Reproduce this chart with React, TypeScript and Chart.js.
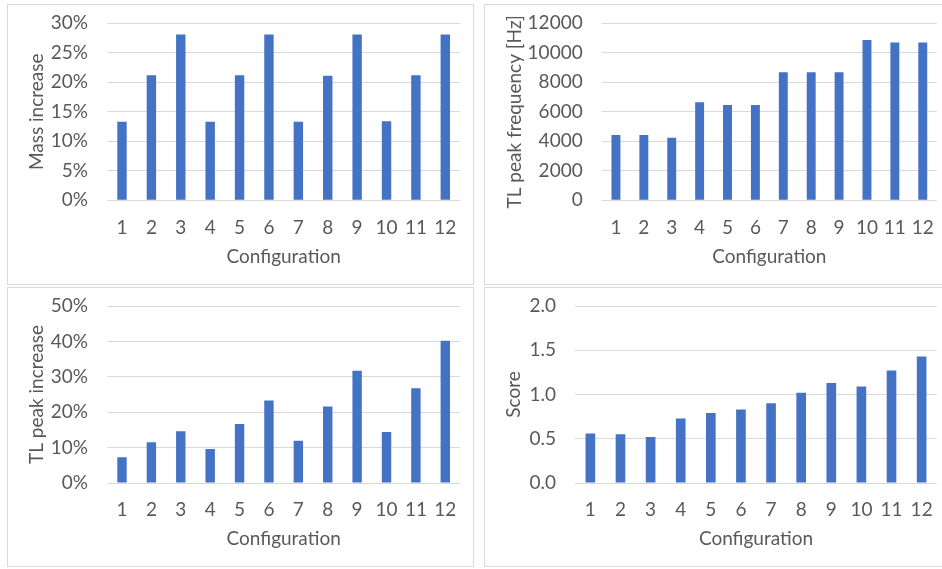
import React, { useEffect, useRef } from "react";
import { Chart, registerables } from "chart.js";

Chart.register(...registerables);

const configurations = ["1", "2", "3", "4", "5", "6", "7", "8", "9", "10", "11", "12"];
const massIncrease = [13.3, 21.2, 28.1, 13.3, 21.2, 28.1, 13.3, 21.1, 28.1, 13.4, 21.2, 28.1];
const tlPeakFrequency = [4430, 4430, 4240, 6640, 6460, 6460, 8680, 8680, 8680, 10870, 10690, 10690];
const tlPeakIncrease = [7.3, 11.5, 14.6, 9.6, 16.7, 23.3, 11.9, 21.6, 31.7, 14.4, 26.8, 40.2];
const score = [0.56, 0.55, 0.52, 0.73, 0.79, 0.83, 0.9, 1.02, 1.13, 1.09, 1.27, 1.43];

const BAR = "#4472C4";
const TEXT = "#595959";
const GRID = "#D9D9D9";
const FONT = "Lato";
const FS = 19;

type PanelProps = {
  left: number; top: number; width: number; height: number;
  plotLeft: number; plotRight: number; plotTop: number; plotBottom: number;
  yLabelRight: number; yTitleX: number; xLabelY: number; xTitleY: number;
  values: number[]; yMax: number; yStep: number; fmt: (v: number) => string;
  yTitle: string;
};

const zeroPad = (s: any) => {
  s.paddingTop = 0; s.paddingBottom = 0; s.paddingLeft = 0; s.paddingRight = 0;
};

function Panel(p: PanelProps) {
  const ref = useRef<HTMLCanvasElement | null>(null);
  useEffect(() => {
    if (!ref.current) return;
    const cw = p.width - 2;
    const ch = p.height - 2;
    const lh = FS * 1.2;
    const chart = new Chart(ref.current, {
      type: "bar",
      data: {
        labels: configurations,
        datasets: [{ data: p.values, backgroundColor: BAR, barPercentage: 0.32, categoryPercentage: 1 }],
      },
      options: {
        animation: false,
        responsive: false,
        maintainAspectRatio: false,
        layout: { padding: { left: 0, top: p.plotTop, right: cw - p.plotRight, bottom: 0 } },
        plugins: { legend: { display: false }, tooltip: { enabled: false } },
        scales: {
          x: {
            grid: { display: false, drawTicks: false },
            border: { display: false },
            ticks: {
              color: TEXT, font: { family: FONT, size: FS }, autoSkip: false, maxRotation: 0,
              padding: p.xLabelY - p.plotBottom - lh / 2,
            },
            title: {
              display: true, text: "Configuration", color: TEXT, font: { family: FONT, size: FS },
              padding: { top: 0, bottom: ch - p.xTitleY - lh / 2 },
            },
            afterFit: (s: any) => { s.height = ch - p.plotBottom; zeroPad(s); },
          },
          y: {
            min: 0, max: p.yMax,
            grid: { color: GRID, drawTicks: false, lineWidth: 1 },
            border: { display: false },
            ticks: {
              stepSize: p.yStep, color: TEXT, font: { family: FONT, size: FS },
              padding: p.plotLeft - p.yLabelRight,
              callback: (v: any) => p.fmt(Number(v)),
            },
            title: {
              display: true, text: p.yTitle, color: TEXT, font: { family: FONT, size: FS },
              padding: { top: p.yTitleX - lh / 2, bottom: 0 },
            },
            afterFit: (s: any) => { s.width = p.plotLeft; zeroPad(s); },
          },
        },
      },
    });
    return () => chart.destroy();
  }, []);
  return (
    <div
      style={{
        position: "absolute", left: p.left, top: p.top, width: p.width, height: p.height,
        border: "1px solid " + GRID, boxSizing: "border-box", background: "#fff",
      }}
    >
      <canvas ref={ref} width={p.width - 2} height={p.height - 2} style={{ display: "block" }} />
    </div>
  );
}

export default function App() {
  const pct = (v: number) => Math.round(v) + "%";
  return (
    <div style={{ position: "absolute", left: 0, top: 0, width: 942, height: 569, overflow: "hidden", background: "#fff" }}>
      <Panel left={7} top={4} width={467} height={281}
        plotLeft={99.3} plotRight={452} plotTop={18.3} plotBottom={195.3}
        yLabelRight={80} yTitleX={29.3} xLabelY={222.7} xTitleY={251.7}
        values={massIncrease} yMax={30} yStep={5} fmt={pct} yTitle="Mass increase" />
      <Panel left={484} top={4} width={460} height={281}
        plotLeft={117} plotRight={451.7} plotTop={18.3} plotBottom={195.3}
        yLabelRight={97.7} yTitleX={30} xLabelY={222.7} xTitleY={251.7}
        values={tlPeakFrequency} yMax={12000} yStep={2000} fmt={(v) => String(v)} yTitle="TL peak frequency [Hz]" />
      <Panel left={7} top={287} width={467} height={280}
        plotLeft={99.3} plotRight={452} plotTop={18} plotBottom={195}
        yLabelRight={80} yTitleX={29.3} xLabelY={222.3} xTitleY={251.3}
        values={tlPeakIncrease} yMax={50} yStep={10} fmt={pct} yTitle="TL peak increase" />
      <Panel left={484} top={287} width={460} height={280}
        plotLeft={90.3} plotRight={451.7} plotTop={18} plotBottom={195}
        yLabelRight={71} yTitleX={29.3} xLabelY={222.3} xTitleY={251.3}
        values={score} yMax={2} yStep={0.5} fmt={(v) => v.toFixed(1)} yTitle="Score" />
    </div>
  );
}
